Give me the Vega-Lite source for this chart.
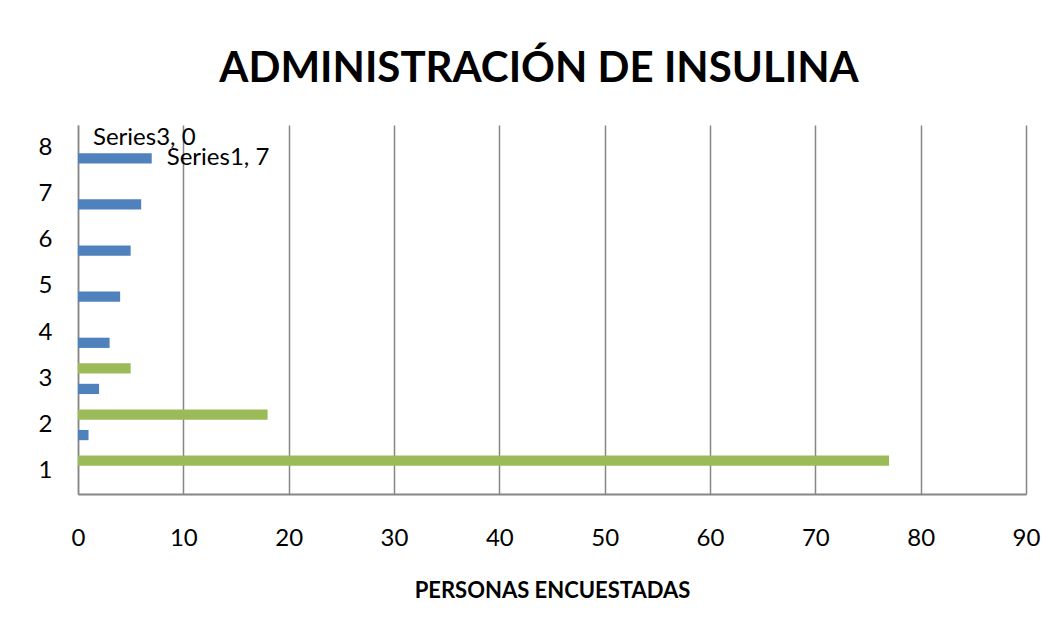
{
  "$schema": "https://vega.github.io/schema/vega-lite/v6.json",
  "width": 948,
  "height": 369,
  "autosize": {"type": "none"},
  "padding": {"left": 78, "top": 125, "right": 31, "bottom": 136},
  "background": "white",
  "title": {
    "text": "ADMINISTRACIÓN DE INSULINA",
    "font": "Lato",
    "fontSize": 42,
    "fontWeight": "bold",
    "color": "black",
    "anchor": "middle",
    "dx": -13,
    "offset": 34
  },
  "config": {
    "view": {"stroke": null},
    "font": "Lato"
  },
  "data": {
    "values": [
      {"cat": 1, "series": "Series1", "value": 0, "label": ""},
      {"cat": 2, "series": "Series1", "value": 1, "label": ""},
      {"cat": 3, "series": "Series1", "value": 2, "label": ""},
      {"cat": 4, "series": "Series1", "value": 3, "label": ""},
      {"cat": 5, "series": "Series1", "value": 4, "label": ""},
      {"cat": 6, "series": "Series1", "value": 5, "label": ""},
      {"cat": 7, "series": "Series1", "value": 6, "label": ""},
      {"cat": 8, "series": "Series1", "value": 7, "label": "Series1, 7"},
      {"cat": 1, "series": "Series3", "value": 77, "label": ""},
      {"cat": 2, "series": "Series3", "value": 18, "label": ""},
      {"cat": 3, "series": "Series3", "value": 5, "label": ""},
      {"cat": 8, "series": "Series3", "value": 0, "label": "Series3, 0"}
    ]
  },
  "encoding": {
    "y": {
      "field": "cat",
      "type": "ordinal",
      "sort": "descending",
      "scale": {"domain": [8, 7, 6, 5, 4, 3, 2, 1], "paddingInner": 0.3333, "paddingOuter": 0.1667},
      "axis": {
        "title": null,
        "labelAngle": 0,
        "labelFont": "Lato",
        "labelFontSize": 24,
        "labelColor": "black",
        "labelPadding": 26,
        "ticks": false,
        "domainColor": "#868686",
        "domainWidth": 1.5,
        "grid": false
      }
    },
    "yOffset": {
      "field": "series",
      "type": "nominal",
      "scale": {"domain": ["Series3", "Series2", "Series1"], "paddingInner": 0, "paddingOuter": 0}
    },
    "x": {
      "field": "value",
      "type": "quantitative",
      "scale": {"domain": [0, 90], "nice": false},
      "axis": {
        "values": [0, 10, 20, 30, 40, 50, 60, 70, 80, 90],
        "title": "PERSONAS ENCUESTADAS",
        "titleFont": "Lato",
        "titleFontSize": 22,
        "titleFontWeight": "bold",
        "titleColor": "black",
        "titlePadding": 30,
        "labelFont": "Lato",
        "labelFontSize": 24,
        "labelColor": "black",
        "labelPadding": 32,
        "labelFlush": false,
        "labelOverlap": false,
        "ticks": false,
        "grid": true,
        "gridColor": "#868686",
        "gridWidth": 1.5,
        "domainColor": "#868686",
        "domainWidth": 2
      }
    }
  },
  "layer": [
    {
      "mark": {"type": "bar"},
      "encoding": {
        "color": {
          "field": "series",
          "type": "nominal",
          "scale": {"domain": ["Series1", "Series3"], "range": ["#4F81BD", "#9BBB59"]},
          "legend": null
        }
      }
    },
    {
      "transform": [{"filter": "datum.label != ''"}],
      "mark": {"type": "text", "align": "left", "baseline": "middle", "dx": 15, "font": "Lato", "fontSize": 24, "color": "black"},
      "encoding": {
        "text": {"field": "label", "type": "nominal"}
      }
    }
  ]
}
